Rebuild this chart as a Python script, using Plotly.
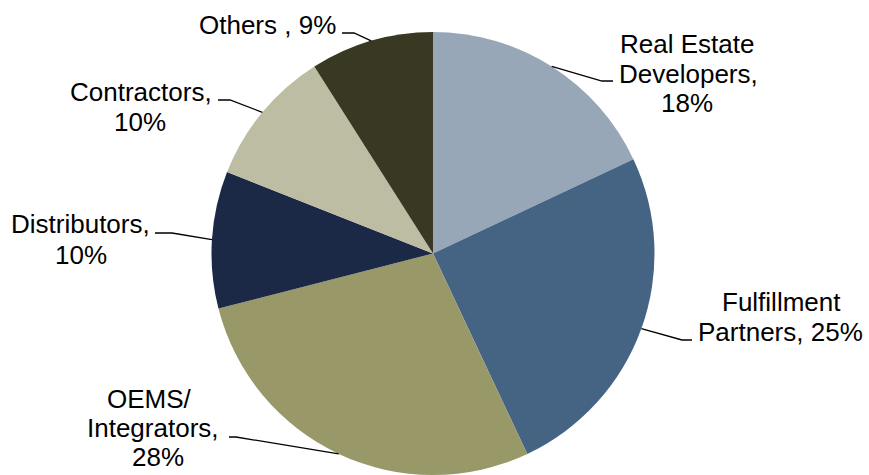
import math
import plotly.graph_objects as go

# ---- data ----
categories = ["Real Estate Developers", "Fulfillment Partners", "OEMS/ Integrators",
              "Distributors", "Contractors", "Others"]
shares = [18, 25, 28, 10, 10, 9]
label_lines = [
    ["Real Estate", "Developers,", "18%"],
    ["Fulfillment", "Partners, 25%"],
    ["OEMS/", "Integrators,", "28%"],
    ["Distributors,", "10%"],
    ["Contractors,", "10%"],
    ["Others , 9%"],
]
colors = ["#97A7B8", "#456483", "#989868", "#1C2946", "#BDBDA3", "#393822"]

# ---- layout / style ----
W, H = 869, 475
FS = 26
CX, CY, R = 433.0, 253.5, 221.5          # pie geometry in pixels
# label line placement (x centre, baseline) in pixels
label_pos = [
    [(687, 52), (688, 82), (687, 111)],
    [(781, 310), (780, 340)],
    [(149, 407), (153, 436), (158, 465)],
    [(80, 232), (81, 263)],
    [(141, 100), (140, 130)],
    [(267, 33)],
]
# leader line elbow + end (pixels); edge point computed from data
leader_pts = [
    [(602, 81), (613, 81)],
    [(682, 340), (692, 340)],
    [(236, 437), (229, 437)],
    [(172, 233), (155, 233)],
    [(230, 100), (218, 100)],
    [(354, 33), (342, 33)],
]

def px(x):
    return x / W

def py(y):
    return 1 - y / H

fig = go.Figure(go.Pie(
    labels=categories, values=shares, sort=False, direction="clockwise",
    rotation=0, marker=dict(colors=colors, line=dict(width=0)),
    textinfo="none", hoverinfo="label+percent", showlegend=False,
    domain=dict(x=[px(CX - R), px(CX + R)], y=[0, py(CY - R)]),
))

total = sum(shares)
cum = 0
shapes = []
annotations = []
for i, v in enumerate(shares):
    mid = (cum + v / 2) / total * 2 * math.pi
    cum += v
    ex = CX + R * math.sin(mid)
    ey = CY - R * math.cos(mid)
    pts = [(ex, ey)] + leader_pts[i]
    path = "M {} {}".format(px(pts[0][0]), py(pts[0][1]))
    for (x, y) in pts[1:]:
        path += " L {} {}".format(px(x), py(y))
    shapes.append(dict(type="path", xref="paper", yref="paper", path=path,
                       line=dict(color="black", width=1.3)))
    for text, (x, base) in zip(label_lines[i], label_pos[i]):
        annotations.append(dict(
            text=text, x=px(x), y=py(base - 0.3 * FS), xref="paper", yref="paper",
            xanchor="center", yanchor="middle", showarrow=False,
            font=dict(family="Arial, Liberation Sans", size=FS, color="black")))

fig.update_layout(
    width=W, height=H, margin=dict(l=0, r=0, t=0, b=0),
    paper_bgcolor="white", plot_bgcolor="white",
    shapes=shapes, annotations=annotations,
)
fig.write_html("out.html", config={"displayModeBar": False},
               post_script="document.body.style.margin='0';")
